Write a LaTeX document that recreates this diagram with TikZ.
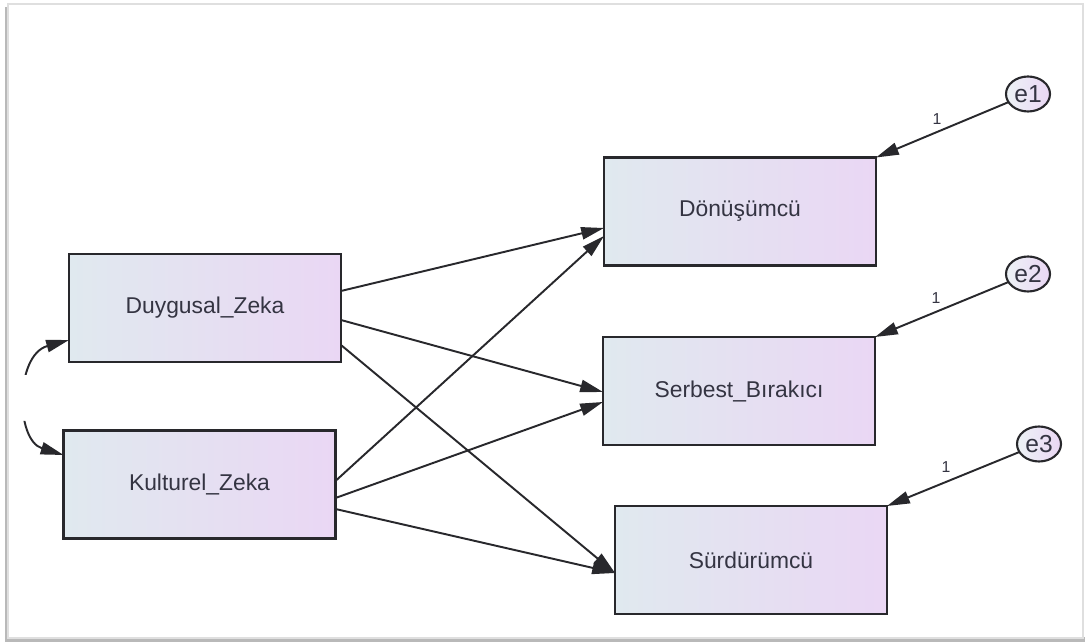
\documentclass[tikz,border=0pt]{standalone}
\usepackage{fontspec}
\setmainfont{Liberation Sans}
\usetikzlibrary{arrows.meta,shapes.geometric,calc}

\definecolor{boxleft}{RGB}{224,233,239}
\definecolor{boxright}{RGB}{234,215,244}
\definecolor{edgeclr}{RGB}{40,40,44}
\definecolor{txtclr}{RGB}{52,52,66}

\tikzset{
  var/.style={draw=edgeclr, line width=1.2pt, left color=boxleft, right color=boxright,
    minimum width=5.44cm, minimum height=2.16cm, inner sep=0pt, outer sep=0pt,
    font=\fontsize{13}{15}\selectfont, text=txtclr},
  err/.style={ellipse, draw=edgeclr, line width=1.2pt, left color=boxleft!60!white, right color=boxright,
    minimum width=0.88cm, minimum height=0.7cm, inner sep=0pt, outer sep=0pt,
    font=\fontsize{14}{16}\selectfont, text=txtclr},
  tip/.tip={Triangle[length=13pt,width=7pt]},
  path/.style={draw=edgeclr, line width=1.1pt, -tip},
  wt/.style={font=\fontsize{9}{10}\selectfont, text=txtclr}
}

\begin{document}
\begin{tikzpicture}[x=0.02cm, y=-0.02cm]
  \useasboundingbox (0,0) rectangle (1086,644);
  % page frame with drop shadow
  \fill[white] (0,0) rectangle (1086,644);
  \fill[gray!55] (5,7) rectangle (9,642);
  \fill[gray!55] (5,637) rectangle (1085,642);
  \draw[gray!25, line width=0.8pt] (8,4) rectangle (1083,638);

  % observed variables
  \node[var] (D) at (205,308)   {Duygusal\_Zeka};
  \node[var] (K) at (199.5,484.5) {Kulturel\_Zeka};
  \node[var] (T) at (740,211.5) {Dönüşümcü};
  \node[var] (S) at (739,391)   {Serbest\_Bırakıcı};
  \node[var] (U) at (751,560)   {Sürdürümcü};

  % error terms
  \node[err] (e1) at (1028,94)  {e1};
  \node[err] (e2) at (1028,274) {e2};
  \node[err] (e3) at (1039,444) {e3};

  % regression paths
  \draw[path] ($(D.east)+(0,-17)$) -- ($(T.west)+(0,16.5)$);
  \draw[path] ($(D.east)+(0,12)$)  -- ($(S.west)+(0,1)$);
  \draw[path] ($(D.east)+(0,37)$)  -- ($(U.west)+(0,13)$);
  \draw[path] ($(K.east)+(0,-3.5)$) -- ($(T.west)+(0,24.5)$);
  \draw[path] ($(K.east)+(0,13.5)$) -- ($(S.west)+(0,11)$);
  \draw[path] ($(K.east)+(0,24.5)$) -- ($(U.west)+(0,13)$);

  % error paths with fixed weights
  \draw[path] (e1) -- (T.north east);
  \draw[path] (e2) -- (S.north east);
  \draw[path] (e3) -- (U.north east);
  \node[wt] (w1) at (937,119) {1};
  \node[wt] (w2) at (936,298) {1};
  \node[wt] (w3) at (946,467) {1};

  % covariance between the predictors
  \begin{scope}
    \clip (0,0) rectangle (1086,375) (0,421) rectangle (1086,644);
    \draw[draw=edgeclr, line width=1.1pt, tip-tip]
      ($(D.west)+(0,32)$) .. controls (15,355) and (15,440) .. ($(K.west)+(0,-29.5)$);
  \end{scope}
\end{tikzpicture}
\end{document}
